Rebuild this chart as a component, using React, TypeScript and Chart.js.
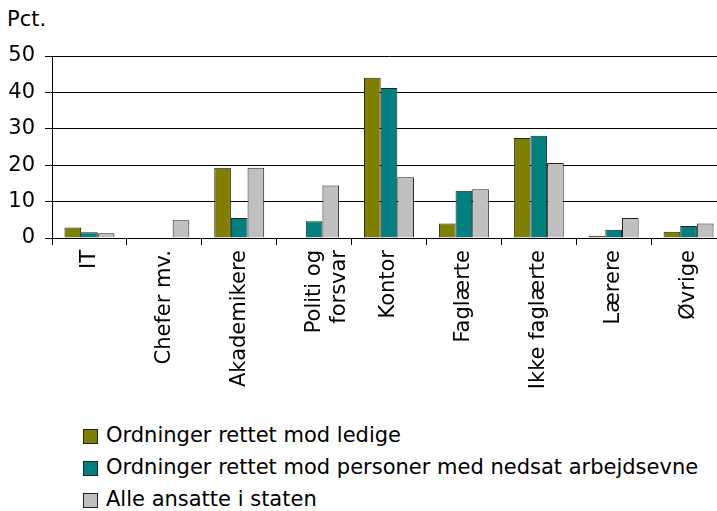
import React, { useEffect, useRef } from "react";
import { Chart, registerables } from "chart.js";

Chart.register(...registerables);

const categories: (string | string[])[] = [
  "IT",
  "Chefer mv.",
  "Akademikere",
  ["Politi og", "forsvar"],
  "Kontor",
  "Faglærte",
  "Ikke faglærte",
  "Lærere",
  "Øvrige",
];

const seriesNames = [
  "Ordninger rettet mod ledige",
  "Ordninger rettet mod personer med nedsat arbejdsevne",
  "Alle ansatte i staten",
];

const ledige = [2.9, 0, 19.3, 0, 44.0, 4.0, 27.5, 0.6, 1.7];
const nedsat = [1.6, 0, 5.5, 4.6, 41.2, 13.0, 28.1, 2.3, 3.3];
const alle = [1.3, 4.9, 19.3, 14.4, 16.7, 13.4, 20.6, 5.5, 4.0];

const colors = ["#808000", "#008080", "#C0C0C0"];
const yTicks = [0, 10, 20, 30, 40, 50];

const FONT = "'DejaVu Sans', sans-serif";

export default function App() {
  const canvasRef = useRef<HTMLCanvasElement | null>(null);

  useEffect(() => {
    if (!canvasRef.current) return;
    const values = [ledige, nedsat, alle];
    const chart = new Chart(canvasRef.current, {
      type: "bar",
      data: {
        labels: categories,
        datasets: values.map((v, i) => ({
          label: seriesNames[i],
          data: v,
          backgroundColor: colors[i],
          borderColor: "#222",
          borderWidth: 1,
          categoryPercentage: 0.667,
          barPercentage: 1.0,
        })),
      },
      options: {
        animation: false,
        responsive: true,
        maintainAspectRatio: false,
        layout: { padding: { top: 56, left: 0, right: 0, bottom: 0 } },
        plugins: {
          legend: { display: false },
          tooltip: { enabled: false },
          title: { display: false },
        },
        scales: {
          x: {
            offset: true,
            grid: {
              display: true,
              drawOnChartArea: false,
              offset: true,
              tickLength: 7,
              color: "#000",
              lineWidth: 1,
            },
            border: { display: true, color: "#000", width: 1 },
            ticks: {
              autoSkip: false,
              maxRotation: 90,
              minRotation: 90,
              padding: 5,
              color: "#000",
              font: { family: FONT, size: 21 },
            },
            afterFit: (s: any) => {
              s.height = 182;
            },
          },
          y: {
            min: 0,
            max: 50,
            afterBuildTicks: (s: any) => {
              s.ticks = yTicks.map((v) => ({ value: v }));
            },
            grid: {
              color: "#000",
              lineWidth: 1,
              tickLength: 7,
            },
            border: { display: true, color: "#000", width: 1 },
            ticks: {
              padding: 10,
              color: "#000",
              font: { family: FONT, size: 21 },
            },
            afterFit: (s: any) => {
              s.width = 52;
            },
          },
        },
      },
    });
    return () => chart.destroy();
  }, []);

  const legendRow = (i: number, baseline: number) => (
    <div key={i}>
      <div
        style={{
          position: "absolute",
          left: 83,
          top: baseline - 13.5,
          width: 13,
          height: 13,
          background: colors[i],
          border: "1px solid #222",
        }}
      />
      <div
        style={{
          position: "absolute",
          left: 106,
          top: baseline - 19.3,
          lineHeight: "24px",
          fontSize: 21,
          fontFamily: FONT,
          color: "#000",
          whiteSpace: "nowrap",
        }}
      >
        {seriesNames[i]}
      </div>
    </div>
  );

  return (
    <div
      style={{
        position: "fixed",
        left: 0,
        top: 0,
        width: 717,
        height: 511,
        overflow: "hidden",
        background: "#fff",
      }}
    >
      <div
        style={{
          position: "absolute",
          left: 7,
          top: 26.5 - 19.3,
          lineHeight: "24px",
          fontSize: 21,
          fontFamily: FONT,
          color: "#000",
        }}
      >
        Pct.
      </div>
      <div style={{ position: "absolute", left: 0, top: 0, width: 726, height: 420 }}>
        <canvas ref={canvasRef} />
      </div>
      {legendRow(0, 442.7)}
      {legendRow(1, 474)}
      {legendRow(2, 506)}
    </div>
  );
}
